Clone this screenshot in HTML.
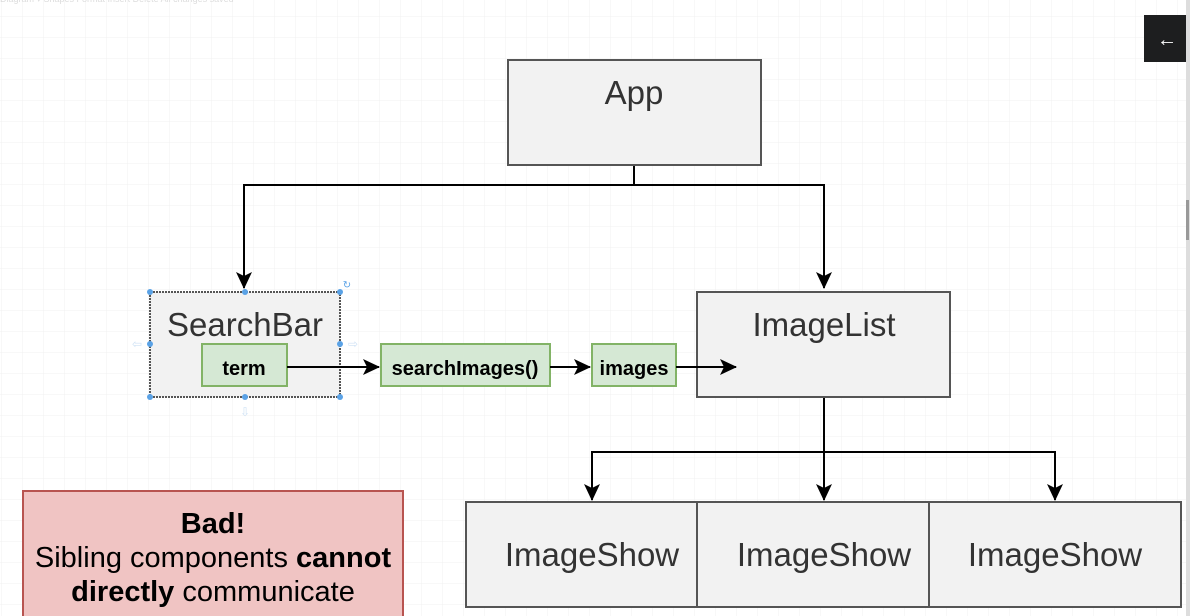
<!DOCTYPE html>
<html><head><meta charset="utf-8"><style>
html,body{margin:0;padding:0;background:#fff;width:1190px;height:616px;overflow:hidden}
svg{display:block}
text{font-family:"Liberation Sans",sans-serif}
</style></head><body>
<svg width="1190" height="616" viewBox="0 0 1190 616">
<defs>
<pattern id="g" width="21" height="21" patternUnits="userSpaceOnUse" x="2" y="17">
<path d="M21 0V21M0 21H21" stroke="#f0f0f0" stroke-width="1" fill="none"/>
</pattern>
<marker id="b" markerWidth="18" markerHeight="18" refX="16" refY="8" orient="auto" markerUnits="userSpaceOnUse">
<path d="M0,0 L17,8 L0,16 L4,8 Z" fill="#000"/>
</marker>
</defs>
<rect width="1190" height="616" fill="url(#g)"/>
<text x="0" y="2" font-size="9" fill="#ddd">Diagram ▾   Shapes  Format    Insert  Delete                       All changes saved</text>
<rect x="1144" y="15" width="45" height="47" fill="#1d1e1f"/>
<text x="1167" y="46" font-size="20" fill="#fff" text-anchor="middle">←</text>
<rect x="1186" y="0" width="4" height="616" fill="#ddd"/>
<rect x="1186" y="200" width="3" height="40" fill="#999"/>

<!-- tree connectors -->
<g stroke="#000" stroke-width="2" fill="none">
<path d="M634 165V185H244V288" marker-end="url(#b)"/>
<path d="M634 185H824V288" marker-end="url(#b)"/>
<path d="M824 397V452H592V500" marker-end="url(#b)"/>
<path d="M824 452V500" marker-end="url(#b)"/>
<path d="M824 452H1055V500" marker-end="url(#b)"/>
</g>

<rect x="508" y="60" width="253" height="105" fill="#f2f2f2" stroke="#555" stroke-width="2"/>
<text x="634" y="104" font-size="33" fill="#333" text-anchor="middle">App</text>

<rect x="150" y="292" width="190" height="105" fill="#f2f2f2" stroke="#555" stroke-width="2" stroke-dasharray="2 1"/>
<text x="245" y="336" font-size="33" fill="#333" text-anchor="middle">SearchBar</text>
<g fill="#5aa2e6">
<circle cx="150" cy="292" r="3"/><circle cx="245" cy="292" r="3"/><circle cx="340" cy="292" r="3"/>
<circle cx="150" cy="344" r="3"/><circle cx="340" cy="344" r="3"/>
<circle cx="150" cy="397" r="3"/><circle cx="245" cy="397" r="3"/><circle cx="340" cy="397" r="3"/>
</g>
<text x="347" y="288" font-size="10" fill="#5aa2e6" text-anchor="middle">↻</text>
<text x="137" y="348" font-size="12" fill="#cfe2f5" text-anchor="middle">⇦</text>
<text x="353" y="348" font-size="12" fill="#cfe2f5" text-anchor="middle">⇨</text>
<text x="245" y="416" font-size="12" fill="#cfe2f5" text-anchor="middle">⇩</text>

<rect x="697" y="292" width="253" height="105" fill="#f2f2f2" stroke="#555" stroke-width="2"/>
<text x="824" y="336" font-size="33" fill="#333" text-anchor="middle">ImageList</text>

<g fill="#d5e8d4" stroke="#82b366" stroke-width="2">
<rect x="202" y="344" width="85" height="42"/>
<rect x="381" y="344" width="169" height="42"/>
<rect x="592" y="344" width="84" height="42"/>
</g>
<g font-size="20" font-weight="bold" fill="#000" text-anchor="middle">
<text x="244" y="375">term</text>
<text x="465" y="375">searchImages()</text>
<text x="634" y="375">images</text>
</g>

<g stroke="#000" stroke-width="2" fill="none">
<path d="M287 367H379" marker-end="url(#b)"/>
<path d="M550 367H590" marker-end="url(#b)"/>
<path d="M676 367H736" marker-end="url(#b)"/>
</g>

<g fill="#f2f2f2" stroke="#555" stroke-width="2">
<rect x="466" y="502" width="231" height="105"/>
<rect x="697" y="502" width="232" height="105"/>
<rect x="929" y="502" width="252" height="105"/>
</g>
<g font-size="33" fill="#333" text-anchor="middle">
<text x="592" y="566">ImageShow</text>
<text x="824" y="566">ImageShow</text>
<text x="1055" y="566">ImageShow</text>
</g>

<rect x="23" y="491" width="380" height="130" fill="#f0c4c3" stroke="#b85450" stroke-width="2"/>
<g font-size="29" fill="#000" text-anchor="middle">
<text x="213" y="533" font-weight="bold">Bad!</text>
<text x="213" y="567">Sibling components <tspan font-weight="bold">cannot</tspan></text>
<text x="213" y="601"><tspan font-weight="bold">directly</tspan> communicate</text>
</g>
</svg>
</body></html>
